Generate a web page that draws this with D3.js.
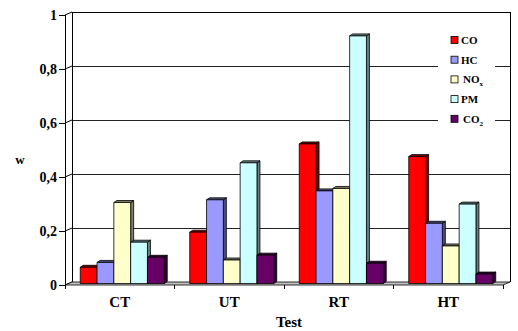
<!DOCTYPE html>
<html>
<head>
<meta charset="utf-8">
<script src="https://cdnjs.cloudflare.com/ajax/libs/d3/7.8.5/d3.min.js"></script>
<style>
  html, body { margin: 0; padding: 0; background: #fff; }
  svg text { font-family: "Liberation Serif", "Times New Roman", serif; font-weight: bold; fill: #000; }
</style>
</head>
<body>
<svg id="chart" width="518" height="331"></svg>
<script>
// Emission weights per test cycle
const categories = ["CT", "UT", "RT", "HT"];
const seriesNames = ["CO", "HC", "NOx", "PM", "CO2"];
const CO  = [0.06, 0.19, 0.517, 0.47];
const HC  = [0.078, 0.31, 0.343, 0.223];
const NOx = [0.30, 0.087, 0.352, 0.139];
const PM  = [0.153, 0.447, 0.917, 0.294];
const CO2 = [0.097, 0.105, 0.075, 0.035];
const yTicks = [0, 0.2, 0.4, 0.6, 0.8, 1];
const yTickLabels = ["0", "0,2", "0,4", "0,6", "0,8", "1"];

const seriesValues = [CO, HC, NOx, PM, CO2];
const fronts = ["#ff0000", "#9999ff", "#ffffcc", "#ccffff", "#660066"];
const sides  = ["#7f0000", "#4c4c80", "#808066", "#668080", "#330033"];

const svg = d3.select("#chart");

// Front plane of the 3D box
const plotLeft = 65, plotRight = 503, plotBottom = 285, plotTop = 15;
const depthX = 7, depthY = -3;          // wall/floor depth
const barDX = 3, barDY = -2;            // bar depth
const midDX = 2.5, midDY = -1.5;        // bars sit mid-depth

const y = d3.scaleLinear().domain([0, 1]).range([plotBottom, plotTop]);
const x0 = d3.scaleBand().domain(categories).range([plotLeft, plotRight])
  .paddingInner(0.233).paddingOuter(0.1165);
const x1 = d3.scaleBand().domain(seriesNames).range([0, x0.bandwidth()]);

// Back wall gridlines
svg.append("g").selectAll("line").data(yTicks.slice(1, -1)).join("line")
  .attr("x1", plotLeft + depthX).attr("x2", plotRight + depthX)
  .attr("y1", d => y(d) + depthY).attr("y2", d => y(d) + depthY)
  .attr("stroke", "#222").attr("stroke-width", 1).attr("shape-rendering", "crispEdges");

// Left wall: diagonal gridlines
svg.append("g").selectAll("line").data(yTicks).join("line")
  .attr("x1", plotLeft).attr("x2", plotLeft + depthX)
  .attr("y1", d => y(d)).attr("y2", d => y(d) + depthY)
  .attr("stroke", "#000");

// Back wall outline (top, left, right edges)
svg.append("path")
  .attr("d", `M${plotLeft + depthX},${plotBottom + depthY}V${plotTop + depthY}H${plotRight + depthX}V${plotBottom + depthY}`)
  .attr("fill", "none").attr("stroke", "#000").attr("shape-rendering", "crispEdges");

// Floor
svg.append("path")
  .attr("d", `M${plotLeft},${plotBottom}L${plotLeft + depthX},${plotBottom + depthY}L${plotRight + depthX},${plotBottom + depthY}L${plotRight},${plotBottom}Z`)
  .attr("fill", "#c0c0c0").attr("stroke", "#000").attr("stroke-width", 0.8);

// Front vertical axis with ticks
svg.append("line").attr("x1", plotLeft).attr("x2", plotLeft).attr("y1", plotTop).attr("y2", plotBottom)
  .attr("stroke", "#000").attr("shape-rendering", "crispEdges");
svg.append("g").selectAll("line").data(yTicks).join("line")
  .attr("x1", plotLeft - 6).attr("x2", plotLeft)
  .attr("y1", d => y(d)).attr("y2", d => y(d))
  .attr("stroke", "#000").attr("shape-rendering", "crispEdges");
svg.append("g").selectAll("text").data(yTicks).join("text")
  .attr("x", plotLeft - 8).attr("y", d => y(d) + 5)
  .attr("text-anchor", "end").attr("font-size", 14)
  .text((d, i) => yTickLabels[i]);

// Category axis ticks and labels
const catTicks = [plotLeft].concat(categories.map(c => x0(c) - x0.step() * x0.paddingInner() / 2 + x0.step()));
svg.append("g").selectAll("line").data(catTicks).join("line")
  .attr("x1", d => d).attr("x2", d => d).attr("y1", plotBottom).attr("y2", plotBottom + 4)
  .attr("stroke", "#000").attr("shape-rendering", "crispEdges");
svg.append("g").selectAll("text").data(categories).join("text")
  .attr("x", d => x0(d) + x0.bandwidth() / 2)
  .attr("y", 307).attr("text-anchor", "middle").attr("font-size", 15)
  .text(d => d);

// 3D bars
const bars = [];
seriesValues.forEach((vals, si) => {
  vals.forEach((v, ci) => {
    bars.push({ s: seriesNames[si], si, c: categories[ci], v });
  });
});
const g = svg.append("g");
bars.forEach(b => {
  const bx = x0(b.c) + x1(b.s) + midDX;
  const bw = x1.bandwidth();
  const y0 = y(0) + midDY, yt = y(b.v) + midDY;
  const grp = g.append("g").attr("stroke", "#000").attr("stroke-width", 0.8).attr("stroke-linejoin", "round");
  grp.append("path")
    .attr("d", `M${bx + bw},${yt}L${bx + bw + barDX},${yt + barDY}L${bx + bw + barDX},${y0 + barDY}L${bx + bw},${y0}Z`)
    .attr("fill", sides[b.si]);
  grp.append("path")
    .attr("d", `M${bx},${yt}L${bx + barDX},${yt + barDY}L${bx + bw + barDX},${yt + barDY}L${bx + bw},${yt}Z`)
    .attr("fill", sides[b.si]);
  grp.append("rect").attr("x", bx).attr("y", yt).attr("width", bw).attr("height", y0 - yt)
    .attr("fill", fronts[b.si]);
});

// Legend
const legend = svg.append("g");
legend.append("rect").attr("x", 438).attr("y", 28).attr("width", 57).attr("height", 102).attr("fill", "#fff");
const legendLabels = [
  { main: "CO", sub: null, dx: 0 },
  { main: "HC", sub: null, dx: 0 },
  { main: "NO", sub: "x", dx: 2 },
  { main: "PM", sub: null, dx: 0 },
  { main: "CO", sub: "2", dx: 2 }
];
legendLabels.forEach((l, i) => {
  const cy = 40 + i * 19.7;
  legend.append("rect").attr("x", 451).attr("y", cy - 3.5).attr("width", 7).attr("height", 7)
    .attr("fill", fronts[i]).attr("stroke", "#000").attr("stroke-width", 0.8);
  const t = legend.append("text").attr("x", 461 + l.dx).attr("y", cy + 4).attr("font-size", 11);
  t.append("tspan").text(l.main);
  if (l.sub) t.append("tspan").attr("font-size", 7).attr("dy", 3).text(l.sub);
});

// Axis titles
svg.append("text").attr("x", 20).attr("y", 164).attr("text-anchor", "middle").attr("font-size", 13).text("w");
svg.append("text").attr("x", 289).attr("y", 327).attr("text-anchor", "middle").attr("font-size", 15).text("Test");
</script>
</body>
</html>
